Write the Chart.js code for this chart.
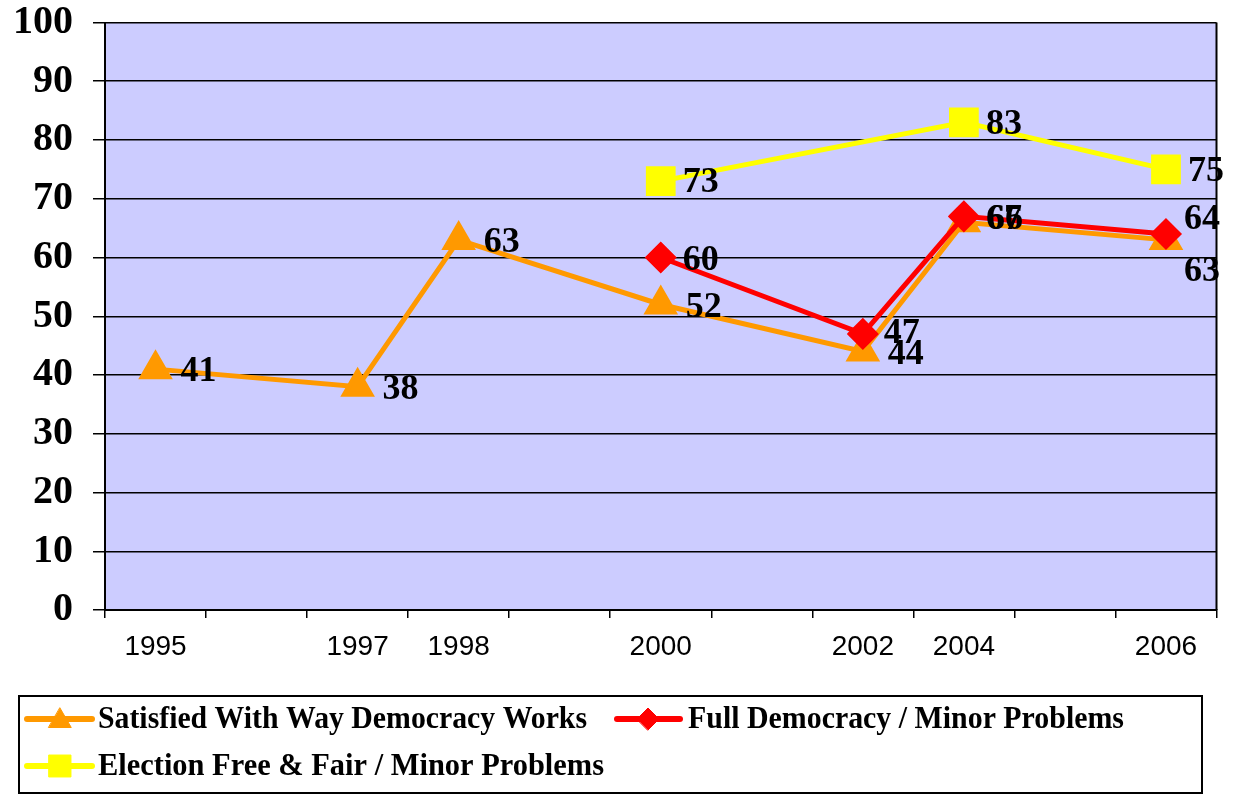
<!DOCTYPE html>
<html>
<head>
<meta charset="utf-8">
<script src="https://cdn.jsdelivr.net/npm/chart.js@4.4.1/dist/chart.umd.min.js"></script>
<style>
  html, body { margin: 0; padding: 0; background: #ffffff; }
  #wrap { width: 1239px; height: 794px; }
</style>
</head>
<body>
<div id="wrap"><canvas id="c" width="1239" height="794"></canvas></div>
<script>
// ---- data ----
const categories = ['1995', '', '1997', '1998', '', '2000', '', '2002', '2004', '', '2006'];
const satisfied = [41, null, 38, 63, null, 52, null, 44, 66, null, 63];
const fullDemocracy = [null, null, null, null, null, 60, null, 47, 67, null, 64];
const electionFair = [null, null, null, null, null, 73, null, null, 83, null, 75];
const yTicks = [0, 10, 20, 30, 40, 50, 60, 70, 80, 90, 100];
const seriesNames = [
  'Satisfied With Way Democracy Works',
  'Full Democracy / Minor Problems',
  'Election Free & Fair / Minor Problems'
];

const ORANGE = '#FF9900', RED = '#FF0000', YELLOW = '#FFFF00';

// label placement tweaks (dx, dy in px from the point) keyed by dataset/index
const labelShift = {
  0: { def: [25, 3], 8: [23, -3], 10: [18, 32] },
  1: { def: [22, 3], 7: [21, 0], 10: [18, -14] },
  2: { def: [22, 2] }
};

const plotBg = {
  id: 'plotBg',
  beforeDraw(chart) {
    const { ctx, chartArea: a } = chart;
    ctx.save();
    ctx.fillStyle = '#CCCCFF';
    ctx.fillRect(a.left, a.top, a.right - a.left, a.bottom - a.top);
    ctx.restore();
  },
  afterDraw(chart) {
    const { ctx, chartArea: a } = chart;
    ctx.save();
    ctx.strokeStyle = '#000';
    ctx.lineWidth = 2;
    ctx.beginPath();
    ctx.moveTo(a.right, a.top);
    ctx.lineTo(a.right, a.bottom);
    ctx.stroke();
    ctx.restore();
  }
};

const valueLabels = {
  id: 'valueLabels',
  afterDatasetsDraw(chart) {
    const ctx = chart.ctx;
    ctx.save();
    ctx.font = 'bold 36px "Liberation Serif", "Times New Roman", serif';
    ctx.fillStyle = '#000';
    ctx.textAlign = 'left';
    ctx.textBaseline = 'middle';
    chart.data.datasets.forEach((ds, di) => {
      const meta = chart.getDatasetMeta(di);
      const cfg = labelShift[di] || { def: [22, 3] };
      meta.data.forEach((pt, i) => {
        const v = ds.data[i];
        if (v === null || v === undefined) return;
        const s = cfg[i] || cfg.def;
        ctx.fillText(String(v), pt.x + s[0], pt.y + s[1]);
      });
    });
    ctx.restore();
  }
};

function drawMarker(ctx, style, r, x, y, color) {
  ctx.fillStyle = color;
  ctx.strokeStyle = color;
  ctx.lineWidth = 1;
  if (Chart.helpers && Chart.helpers.drawPoint) {
    Chart.helpers.drawPoint(ctx, { pointStyle: style, radius: r, rotation: 0, borderWidth: 1 }, x, y);
  }
}

const boxLegend = {
  id: 'boxLegend',
  afterDraw(chart) {
    const ctx = chart.ctx;
    ctx.save();
    ctx.strokeStyle = '#000';
    ctx.lineWidth = 2;
    ctx.strokeRect(19, 696, 1183, 97);
    const items = [
      { name: seriesNames[0], color: ORANGE, style: 'triangle', r: 13, lx: 27, lx2: 92, mx: 60, tx: 98, y: 719, tw: 489 },
      { name: seriesNames[1], color: RED, style: 'rectRot', r: 11, lx: 617, lx2: 680, mx: 648, tx: 688, y: 719, tw: 436 },
      { name: seriesNames[2], color: YELLOW, style: 'rect', r: 15.5, lx: 27, lx2: 92, mx: 60, tx: 98, y: 766, tw: 506 }
    ];
    items.forEach(it => {
      ctx.save();
      ctx.strokeStyle = it.color;
      ctx.lineWidth = 6;
      ctx.lineCap = 'round';
      ctx.beginPath();
      ctx.moveTo(it.lx, it.y);
      ctx.lineTo(it.lx2, it.y);
      ctx.stroke();
      drawMarker(ctx, it.style, it.r, it.mx, it.y + (it.style === 'triangle' ? 2 : 0), it.color);
      ctx.restore();
      ctx.save();
      ctx.font = 'bold 32px "Liberation Serif", "Times New Roman", serif';
      ctx.fillStyle = '#000';
      ctx.textAlign = 'left';
      ctx.textBaseline = 'middle';
      const w = ctx.measureText(it.name).width;
      const sx = it.tw / w;
      ctx.translate(it.tx, it.y + 1);
      ctx.scale(sx, 1);
      ctx.fillText(it.name, 0, 0);
      ctx.restore();
    });
    ctx.restore();
  }
};

new Chart(document.getElementById('c'), {
  type: 'line',
  data: {
    labels: categories,
    datasets: [
      {
        label: seriesNames[0], data: satisfied, borderColor: ORANGE, backgroundColor: ORANGE,
        pointBackgroundColor: ORANGE, pointBorderColor: ORANGE, pointStyle: 'triangle', pointRadius: 15,
        borderWidth: 5, spanGaps: true, tension: 0, order: 1
      },
      {
        label: seriesNames[1], data: fullDemocracy, borderColor: RED, backgroundColor: RED,
        pointBackgroundColor: RED, pointBorderColor: RED, pointStyle: 'rectRot', pointRadius: 12.5,
        borderWidth: 5, spanGaps: true, tension: 0, order: 0
      },
      {
        label: seriesNames[2], data: electionFair, borderColor: YELLOW, backgroundColor: YELLOW,
        pointBackgroundColor: YELLOW, pointBorderColor: YELLOW, pointStyle: 'rect', pointRadius: 17.5,
        borderWidth: 5, spanGaps: true, tension: 0, order: 2
      }
    ]
  },
  options: {
    responsive: false,
    animation: false,
    events: [],
    layout: { padding: { left: 0, top: 22, right: 18, bottom: 124 } },
    plugins: { legend: { display: false }, tooltip: { enabled: false } },
    scales: {
      x: {
        type: 'category',
        offset: true,
        grid: { offset: true, drawOnChartArea: false, color: '#000', lineWidth: 1.5, tickLength: 8 },
        border: { color: '#000', width: 2 },
        ticks: {
          autoSkip: false, maxRotation: 0, padding: 12, color: '#000',
          font: { family: '"Liberation Sans", Arial, sans-serif', size: 28 }
        },
        afterFit(s) {
          s.height = 60;
          s.paddingLeft = 0; s.paddingRight = 0; s.paddingTop = 0; s.paddingBottom = 0;
        }
      },
      y: {
        min: 0, max: 100,
        afterBuildTicks(s) { s.ticks = yTicks.map(v => ({ value: v })); },
        grid: { color: '#000', lineWidth: 1.5, tickLength: 12 },
        border: { color: '#000', width: 2 },
        ticks: {
          padding: 20, color: '#000',
          font: { family: '"Liberation Serif", "Times New Roman", serif', size: 40, weight: 'bold', lineHeight: 1 }
        },
        afterFit(s) {
          s.width = 105;
          s.paddingLeft = 0; s.paddingRight = 0; s.paddingTop = 0; s.paddingBottom = 0;
        }
      }
    }
  },
  plugins: [plotBg, valueLabels, boxLegend]
});
</script>
</body>
</html>
